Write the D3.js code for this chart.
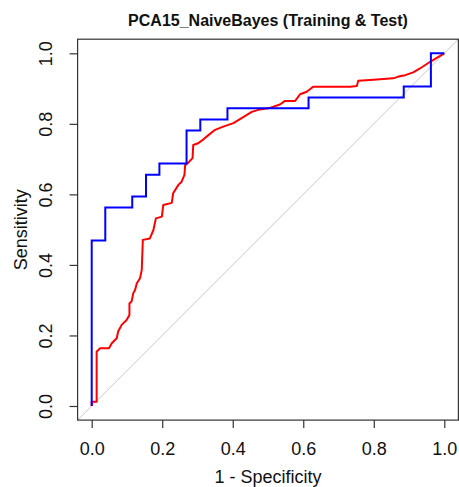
<!DOCTYPE html>
<html>
<head>
<meta charset="utf-8">
<script src="https://cdn.jsdelivr.net/npm/d3@7"></script>
<style>
html,body{margin:0;padding:0;background:#fff;}
svg{display:block;font-family:"Liberation Sans",Arial,sans-serif;}
</style>
</head>
<body>
<svg id="chart" width="459" height="487"></svg>
<script>
// ---- data ----
const title = "PCA15_NaiveBayes (Training & Test)";
const xLabel = "1 - Specificity";
const yLabel = "Sensitivity";
const tickValues = [0, 0.2, 0.4, 0.6, 0.8, 1.0];

// Training ROC (red): 1-specificity, sensitivity
const trainFpr = [0, 0, 0.014, 0.014, 0.024, 0.049, 0.057, 0.071, 0.075, 0.085, 0.099, 0.107, 0.107, 0.113, 0.118, 0.123, 0.128, 0.137, 0.142, 0.145, 0.165, 0.175, 0.182, 0.199, 0.203, 0.227, 0.231, 0.246, 0.255, 0.263, 0.265, 0.274, 0.286, 0.288, 0.302, 0.317, 0.331, 0.350, 0.373, 0.402, 0.425, 0.454, 0.477, 0.501, 0.534, 0.548, 0.577, 0.591, 0.610, 0.628, 0.733, 0.752, 0.756, 0.789, 0.855, 0.870, 0.889, 0.912, 0.931, 0.960, 1.0];
const trainTpr = [0, 0.012, 0.012, 0.154, 0.164, 0.164, 0.178, 0.192, 0.211, 0.230, 0.244, 0.258, 0.291, 0.296, 0.320, 0.329, 0.348, 0.362, 0.386, 0.471, 0.475, 0.499, 0.532, 0.537, 0.570, 0.576, 0.603, 0.627, 0.636, 0.655, 0.683, 0.690, 0.703, 0.740, 0.745, 0.756, 0.768, 0.783, 0.792, 0.802, 0.816, 0.834, 0.841, 0.844, 0.855, 0.865, 0.865, 0.884, 0.891, 0.905, 0.905, 0.907, 0.922, 0.924, 0.929, 0.934, 0.938, 0.946, 0.957, 0.976, 1.0];

// Test ROC (blue): step points (top of each vertical run)
const testFpr = [0, 0, 0.0385, 0.115, 0.154, 0.192, 0.269, 0.308, 0.385, 0.615, 0.885, 0.962, 1.0];
const testTpr = [0, 0.469, 0.5625, 0.594, 0.656, 0.6875, 0.781, 0.8125, 0.844, 0.875, 0.906, 1.0, 1.0];

// ---- chart ----
(function () {
const svg = d3.select("#chart");
const pL = 77.6, pR = 458.4, pT = 39.2, pB = 420.1;
const x = d3.scaleLinear().domain([-0.04, 1.04]).range([pL, pR]);
const y = d3.scaleLinear().domain([-0.04, 1.04]).range([pB, pT]);

svg.append("clipPath").attr("id", "clip").append("rect")
  .attr("x", pL).attr("y", pT).attr("width", pR - pL).attr("height", pB - pT);

const plot = svg.append("g").attr("clip-path", "url(#clip)");

// diagonal reference
plot.append("line")
  .attr("x1", x(-0.04)).attr("y1", y(-0.04))
  .attr("x2", x(1.04)).attr("y2", y(1.04))
  .attr("stroke", "#c8c8c8").attr("stroke-width", 1);

const trainPts = trainFpr.map((f, i) => [f, trainTpr[i]]);
const testPts = testFpr.map((f, i) => [f, testTpr[i]]);

plot.append("path")
  .attr("d", d3.line().x(d => x(d[0])).y(d => y(d[1]))(trainPts))
  .attr("fill", "none").attr("stroke", "#ff0000").attr("stroke-width", 2)
  .attr("stroke-linejoin", "round");

plot.append("path")
  .attr("d", d3.line().x(d => x(d[0])).y(d => y(d[1])).curve(d3.curveStepAfter)(testPts))
  .attr("fill", "none").attr("stroke", "#0000ff").attr("stroke-width", 2)
  .attr("stroke-linejoin", "miter");

// box
svg.append("rect")
  .attr("x", pL).attr("y", pT).attr("width", pR - pL).attr("height", pB - pT)
  .attr("fill", "none").attr("stroke", "#333").attr("stroke-width", 1.2);

const fmt = d3.format(".1f");

// x axis
const gx = svg.append("g").attr("transform", `translate(0,${pB})`)
  .call(d3.axisBottom(x).tickValues(tickValues).tickFormat(fmt).tickSize(8).tickPadding(14));
gx.select(".domain").remove();
gx.selectAll(".tick line").attr("stroke", "#333").attr("stroke-width", 1.2);
gx.selectAll(".tick text").attr("font-size", 18).attr("fill", "#111")
  .attr("font-family", "Liberation Sans, Arial, sans-serif");

// y axis
const gy = svg.append("g").attr("transform", `translate(${pL},0)`)
  .call(d3.axisLeft(y).tickValues(tickValues).tickFormat(fmt).tickSize(8));
gy.select(".domain").remove();
gy.selectAll(".tick line").attr("stroke", "#333").attr("stroke-width", 1.2);
gy.selectAll(".tick text")
  .attr("font-size", 18).attr("fill", "#111")
  .attr("font-family", "Liberation Sans, Arial, sans-serif")
  .attr("x", null).attr("dy", null)
  .attr("text-anchor", "middle")
  .attr("transform", `translate(${52 - pL},0) rotate(-90)`);

// title
svg.append("text")
  .attr("x", (pL + pR) / 2).attr("y", 26)
  .attr("text-anchor", "middle").attr("font-size", 16).attr("font-weight", "bold")
  .attr("fill", "#111").text(title);

// axis labels
svg.append("text")
  .attr("x", (pL + pR) / 2).attr("y", 483)
  .attr("text-anchor", "middle").attr("font-size", 18).attr("fill", "#111").text(xLabel);

svg.append("text")
  .attr("transform", `translate(27,${(pT + pB) / 2}) rotate(-90)`)
  .attr("text-anchor", "middle").attr("font-size", 18).attr("fill", "#111").text(yLabel);
})();
</script>
</body>
</html>
